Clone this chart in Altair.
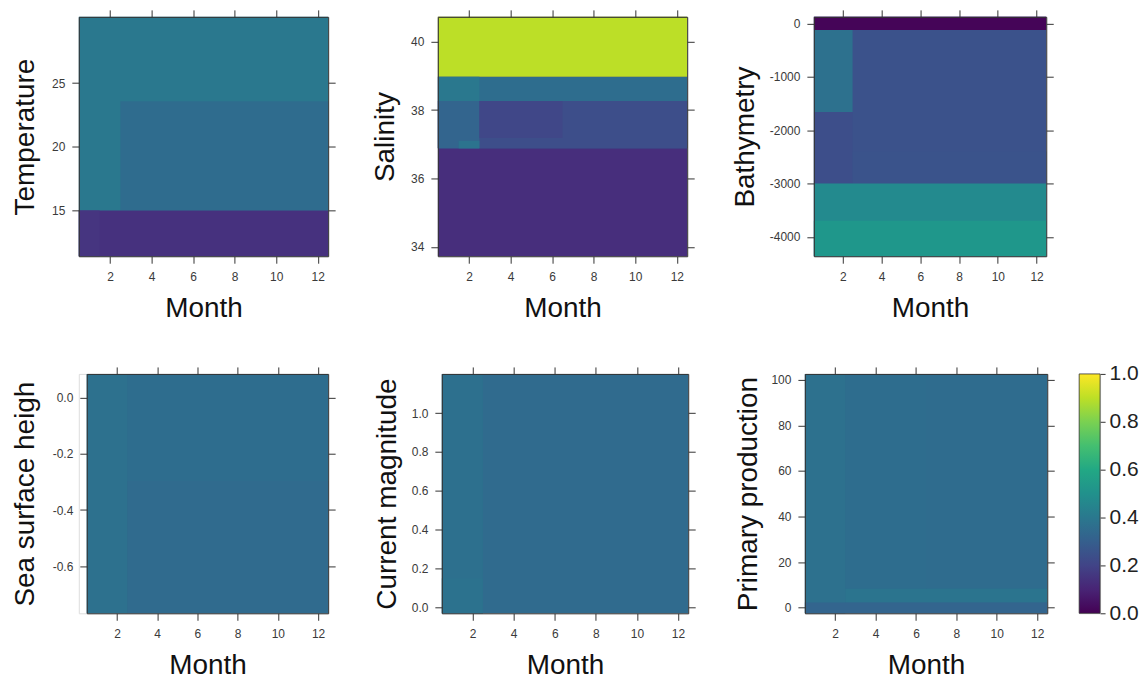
import altair as alt
import pandas as pd

FONT = "Liberation Sans"
MONTH_TICKS = [2, 4, 6, 8, 10, 12]
MONTH_DOMAIN = [0.5, 12.5]

# Blocks are listed in painting order (later blocks lie on top of earlier ones).
# ---- Temperature ----
TEMP_M0 = [0.5, 2.5, 0.5, 0.5]
TEMP_M1 = [12.5, 12.5, 12.5, 1.5]
TEMP_V0 = [11.4, 15.0, 11.4, 11.4]
TEMP_V1 = [30.2, 23.57, 15.0, 15.0]
TEMP_PD = [0.40, 0.35, 0.14, 0.15]
TEMP_DOMAIN = [11.4, 30.2]
TEMP_TICKS = [15, 20, 25]

# ---- Salinity ----
SAL_M0 = [0.5, 0.5, 0.5, 0.5, 0.5, 0.5, 1.5, 2.5]
SAL_M1 = [12.5, 12.5, 12.5, 12.5, 2.5, 2.5, 2.5, 6.5]
SAL_V0 = [33.73, 36.88, 38.97, 36.88, 38.26, 36.88, 36.88, 37.18]
SAL_V1 = [40.72, 38.97, 40.72, 38.26, 38.97, 38.26, 37.1, 38.26]
SAL_PD = [0.13, 0.355, 0.90, 0.235, 0.40, 0.32, 0.38, 0.21]
SAL_DOMAIN = [33.73, 40.72]
SAL_TICKS = [34, 36, 38, 40]

# ---- Bathymetry ----
BATH_M0 = [0.5, 0.5, 0.5, 0.5, 2.5, 0.5, 0.5]
BATH_M1 = [12.5, 12.5, 2.5, 2.5, 12.5, 12.5, 12.5]
BATH_V0 = [-4362, -118, -1658, -3000, -3000, -4362, -4362]
BATH_V1 = [126, 126, -118, -1658, -2400, -3000, -3695]
BATH_PD = [0.25, 0.01, 0.37, 0.235, 0.255, 0.475, 0.53]
BATH_DOMAIN = [-4362, 126]
BATH_TICKS = [-4000, -3000, -2000, -1000, 0]

# ---- Sea surface height ----
SSH_M0 = [0.5, 2.5, 0.5]
SSH_M1 = [12.5, 12.5, 2.5]
SSH_V0 = [-0.767, -0.767, -0.767]
SSH_V1 = [0.084, -0.297, 0.084]
SSH_PD = [0.355, 0.345, 0.37]
SSH_DOMAIN = [-0.767, 0.084]
SSH_TICKS = [-0.6, -0.4, -0.2, 0.0]

# ---- Current magnitude ----
CUR_M0 = [0.5, 0.5, 0.5]
CUR_M1 = [12.5, 2.5, 2.5]
CUR_V0 = [-0.031, -0.031, -0.031]
CUR_V1 = [1.202, 1.202, 0.15]
CUR_PD = [0.345, 0.365, 0.375]
CUR_DOMAIN = [-0.031, 1.202]
CUR_TICKS = [0.0, 0.2, 0.4, 0.6, 0.8, 1.0]

# ---- Primary production ----
PP_M0 = [0.5, 6.5, 0.5, 2.5, 0.5]
PP_M1 = [12.5, 12.5, 2.5, 12.5, 12.5]
PP_V0 = [-2.5, 8.3, -2.5, 2.2, -2.5]
PP_V1 = [102.6, 102.6, 102.6, 8.3, 2.2]
PP_PD = [0.355, 0.35, 0.37, 0.385, 0.32]
PP_DOMAIN = [-2.5, 102.6]
PP_TICKS = [0, 20, 40, 60, 80, 100]

# ---- Colour bar ----
CBAR_LO = [0.0]
CBAR_HI = [1.0]
CBAR_TICKS = [0.0, 0.2, 0.4, 0.6, 0.8, 1.0]
VIRIDIS_STOPS = ["#440154", "#482475", "#414487", "#355f8d", "#2a788e",
                 "#21918c", "#22a884", "#44bf70", "#7ad151", "#bddf26",
                 "#fde725"]


def make_df(m0, m1, v0, v1, pd_):
    return pd.DataFrame({"m0": m0, "m1": m1, "v0": v0, "v1": v1, "pd": pd_})


def label_expr(fmt):
    return (f"datum.value < 0 ? '-' + format(-datum.value, '{fmt}') : "
            f"format(datum.value, '{fmt}')")


AX = dict(tickSize=7, tickColor="#333", domain=True, domainColor="#333",
          domainWidth=1, tickWidth=1, grid=False, zindex=1,
          labelFont=FONT, labelFontSize=12, labelColor="#3a3a3a",
          titleFont=FONT, titleFontSize=28, titleFontWeight="normal",
          titleColor="#111")


def panel(df, ytitle, ydomain, yticks, yfmt, tpad, width, inset=0):
    xscale_kw = dict(domain=MONTH_DOMAIN, nice=False, zero=False)
    if inset:
        xscale_kw["range"] = [inset, width]
    xs = alt.Scale(**xscale_kw)
    ys = alt.Scale(domain=ydomain, nice=False, zero=False)
    cscale = alt.Scale(scheme="viridis", domain=[0, 1])
    yax_extra = {"offset": -inset} if inset else {}
    base = alt.Chart(df)
    rect = base.mark_rect().encode(
        x=alt.X("m0:Q", scale=xs,
                axis=alt.Axis(orient="bottom", values=MONTH_TICKS, title="Month",
                              labelPadding=8, minExtent=26, maxExtent=26,
                              titlePadding=12, **AX)),
        x2="m1:Q",
        y=alt.Y("v0:Q", scale=ys,
                axis=alt.Axis(orient="left", values=yticks, title=ytitle,
                              labelExpr=label_expr(yfmt), labelPadding=7,
                              minExtent=20, maxExtent=20, titlePadding=tpad,
                              **yax_extra, **AX)),
        y2="v1:Q",
        color=alt.Color("pd:Q", scale=cscale, legend=None),
    )
    frame = base.mark_rect(opacity=0).encode(
        x=alt.X("m0:Q", scale=xs,
                axis=alt.Axis(orient="top", values=MONTH_TICKS, title=None,
                              labels=False, minExtent=0, maxExtent=7, **AX)),
        x2="m1:Q",
        y=alt.Y("v0:Q", scale=ys,
                axis=alt.Axis(orient="right", values=yticks, title=None,
                              labels=False, minExtent=0, maxExtent=7, **AX)),
        y2="v1:Q",
    )
    return (alt.layer(rect, frame)
            .resolve_axis(x="independent", y="independent")
            .properties(width=width, height=240))


p1 = panel(make_df(TEMP_M0, TEMP_M1, TEMP_V0, TEMP_V1, TEMP_PD),
           "Temperature", TEMP_DOMAIN, TEMP_TICKS, ".0f", 19, 250)
p2 = panel(make_df(SAL_M0, SAL_M1, SAL_V0, SAL_V1, SAL_PD),
           "Salinity", SAL_DOMAIN, SAL_TICKS, ".0f", 18, 250)
p3 = panel(make_df(BATH_M0, BATH_M1, BATH_V0, BATH_V1, BATH_PD),
           "Bathymetry", BATH_DOMAIN, BATH_TICKS, ".0f", 35, 233)
p4 = panel(make_df(SSH_M0, SSH_M1, SSH_V0, SSH_V1, SSH_PD),
           "Sea surface heigh", SSH_DOMAIN, SSH_TICKS, ".1f", 27, 250,
           inset=8)
p5 = panel(make_df(CUR_M0, CUR_M1, CUR_V0, CUR_V1, CUR_PD),
           "Current magnitude", CUR_DOMAIN, CUR_TICKS, ".1f", 20, 247)
p6 = panel(make_df(PP_M0, PP_M1, PP_V0, PP_V1, PP_PD),
           "Primary production", PP_DOMAIN, PP_TICKS, ".0f", 23, 243)

n_stops = len(VIRIDIS_STOPS) - 1
grad = alt.LinearGradient(
    gradient="linear", x1=0, x2=0, y1=1, y2=0,
    stops=[alt.GradientStop(color=c, offset=i / n_stops)
           for i, c in enumerate(VIRIDIS_STOPS)])

cbar = (alt.Chart(pd.DataFrame({"lo": CBAR_LO, "hi": CBAR_HI}))
        .mark_rect(fill=grad, stroke="#333", strokeWidth=0.8)
        .encode(
            y=alt.Y("lo:Q", scale=alt.Scale(domain=[0, 1], nice=False, zero=False),
                    axis=alt.Axis(orient="right", values=CBAR_TICKS, format=".1f",
                                  title=None, domain=False, tickSize=5,
                                  tickColor="#333", labelPadding=4, grid=False,
                                  labelFont=FONT, labelFontSize=21,
                                  labelColor="#222", labelFlush=False,
                                  labelOverlap=False, minExtent=0)),
            y2="hi:Q",
            x=alt.value(0), x2=alt.value(21))
        .properties(width=21, height=240))

RES = dict(x="independent", y="independent", color="independent")

row1 = alt.hconcat(p1, p2, p3, spacing=35).resolve_scale(**RES)
last = alt.hconcat(p6, cbar, spacing=23).resolve_scale(y="independent",
                                                        x="independent")
row2 = alt.hconcat(p4, p5, last, spacing=37).resolve_scale(**RES)

chart = (alt.vconcat(row1, row2, spacing=39)
         .resolve_scale(**RES)
         .properties(padding={"left": 3, "top": 0, "right": 0, "bottom": 0})
         .configure_view(stroke=None)
         .configure(font=FONT, background="white"))

chart.save("out.html", embed_options={"renderer": "svg", "actions": False})
